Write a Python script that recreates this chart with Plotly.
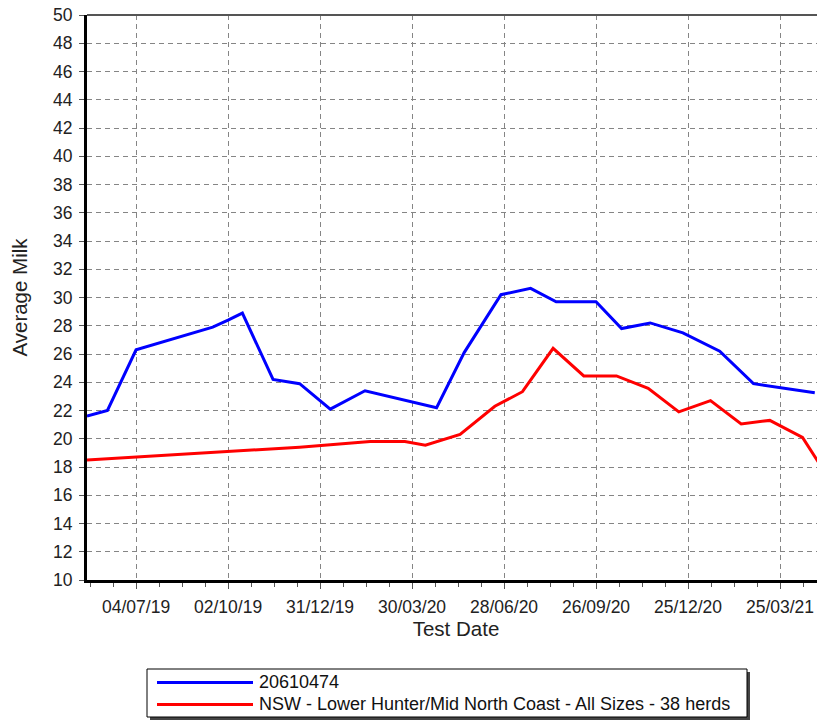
import plotly.graph_objects as go

# ---- data ----
herd_dates = ["2019-05-17", "2019-06-06", "2019-07-04", "2019-09-17", "2019-10-02",
              "2019-10-16", "2019-11-15", "2019-12-11", "2020-01-10", "2020-02-13",
              "2020-04-23", "2020-05-20", "2020-06-25", "2020-07-24", "2020-08-18",
              "2020-09-26", "2020-10-21", "2020-11-18", "2020-12-20", "2021-01-25",
              "2021-02-27", "2021-03-25", "2021-04-28"]
herd_milk = [21.6, 22.0, 26.3, 27.9, 28.4,
             28.9, 24.2, 23.9, 22.1, 23.4,
             22.2, 26.1, 30.2, 30.65, 29.7,
             29.7, 27.8, 28.2, 27.5, 26.2,
             23.9, 23.6, 23.25]

region_dates = ["2019-05-17", "2019-07-04", "2019-10-02", "2019-12-11", "2020-02-18",
                "2020-03-23", "2020-04-12", "2020-05-16", "2020-06-19", "2020-07-16",
                "2020-08-15", "2020-09-14", "2020-10-16", "2020-11-16", "2020-12-16",
                "2021-01-16", "2021-02-15", "2021-03-15", "2021-04-16", "2021-05-16"]
region_milk = [18.5, 18.7, 19.1, 19.4, 19.8,
               19.8, 19.55, 20.3, 22.3, 23.33,
               26.4, 24.45, 24.45, 23.57, 21.9,
               22.7, 21.05, 21.3, 20.1, 16.7]

tick_dates = ["2019-07-04", "2019-10-02", "2019-12-31", "2020-03-30",
              "2020-06-28", "2020-09-26", "2020-12-25", "2021-03-25"]
tick_labels = ["04/07/19", "02/10/19", "31/12/19", "30/03/20",
               "28/06/20", "26/09/20", "25/12/20", "25/03/21"]

herd_name = "20610474"
region_name = "NSW - Lower Hunter/Mid North Coast - All Sizes - 38 herds"
herd_color = "#0000FF"
region_color = "#FF0000"

FONT = "Liberation Sans, Arial, sans-serif"
OFF = 8  # default page body margin
W, H = 825 - OFF, 722 - OFF
L, R, T, B = 87 - OFF, 0, 15 - OFF, 142
PW, PH = W - L - R, H - T - B


def px(x):
    """screen x -> paper x"""
    return (x - OFF - L) / PW


def py(y):
    """screen y -> paper y"""
    return (H - B - (y - OFF)) / PH


fig = go.Figure()
fig.add_trace(go.Scatter(x=herd_dates, y=herd_milk, mode="lines", name=herd_name,
                         line=dict(color=herd_color, width=3), showlegend=False))
fig.add_trace(go.Scatter(x=region_dates, y=region_milk, mode="lines", name=region_name,
                         line=dict(color=region_color, width=3), showlegend=False))

grid = dict(gridcolor="#858585", gridwidth=1, griddash="5px,4px")

fig.update_xaxes(
    type="date", range=["2019-05-17", "2021-05-08"],
    tickmode="array", tickvals=tick_dates, ticktext=tick_labels,
    ticks="outside", ticklen=6, tickcolor="#555", tickwidth=1,
    tickfont=dict(family=FONT, size=17.5, color="#222"),
    showline=True, linecolor="black", linewidth=3,
    showgrid=True, zeroline=False, **grid,
    minor=dict(tickmode="linear", tick0="2019-07-04", dtick=22.5 * 86400000,
               ticks="outside", ticklen=4, tickcolor="#555", showgrid=False),
    title=dict(text="Test Date", font=dict(family=FONT, size=20.5, color="#222"), standoff=3),
    ticklabelstandoff=3, ticklabeloverflow="allow",
)
fig.update_yaxes(
    range=[10, 50], tickmode="linear", tick0=10, dtick=2,
    ticks="outside", ticklen=5, tickcolor="#555", tickwidth=1,
    tickfont=dict(family=FONT, size=17.5, color="#222"),
    showline=True, linecolor="black", linewidth=3,
    showgrid=True, zeroline=False, **grid,
    title=dict(text="Average Milk", font=dict(family=FONT, size=20.5, color="#222"), standoff=21),
    ticklabelstandoff=3, ticklabeloverflow="allow",
)

shapes = [
    # top border
    dict(type="line", xref="paper", yref="paper", x0=0, x1=1.01, y0=1, y1=1,
         line=dict(color="#555", width=2)),
    # legend shadow + box
    dict(type="rect", xref="paper", yref="paper", x0=px(150), x1=px(750), y0=py(720), y1=py(672),
         fillcolor="#444", line=dict(width=0), layer="above"),
    dict(type="rect", xref="paper", yref="paper", x0=px(147), x1=px(747), y0=py(717), y1=py(669),
         fillcolor="white", line=dict(color="black", width=1), layer="above"),
    # legend samples
    dict(type="line", xref="paper", yref="paper", x0=px(157), x1=px(253), y0=py(682.5), y1=py(682.5),
         line=dict(color=herd_color, width=3), layer="above"),
    dict(type="line", xref="paper", yref="paper", x0=px(157), x1=px(253), y0=py(704.5), y1=py(704.5),
         line=dict(color=region_color, width=3), layer="above"),
]
annotations = [
    dict(xref="paper", yref="paper", x=px(257), y=py(682), xanchor="left", yanchor="middle",
         text=herd_name, showarrow=False, font=dict(family=FONT, size=18, color="#111")),
    dict(xref="paper", yref="paper", x=px(257), y=py(704), xanchor="left", yanchor="middle",
         text=region_name, showarrow=False, font=dict(family=FONT, size=18, color="#111")),
]

fig.update_layout(
    width=W, height=H,
    margin=dict(l=L, r=R, t=T, b=B, autoexpand=False),
    paper_bgcolor="white", plot_bgcolor="white",
    font=dict(family=FONT, color="#222"),
    shapes=shapes, annotations=annotations, showlegend=False,
)

fig.write_html("out.html")
